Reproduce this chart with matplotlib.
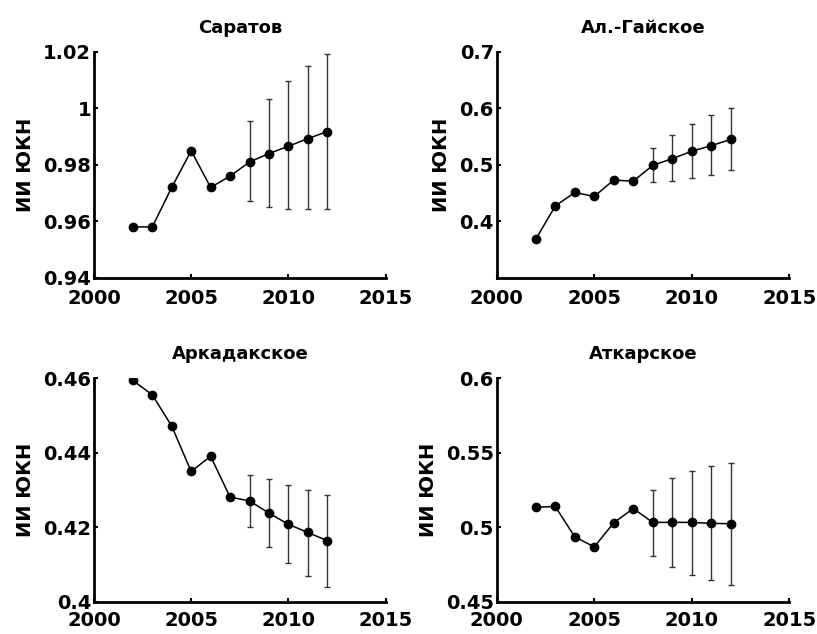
import matplotlib
matplotlib.use('Agg')
import matplotlib.pyplot as plt
from matplotlib.ticker import FuncFormatter
import numpy as np

plt.rcParams['font.family'] = ['DejaVu Sans']
plt.rcParams['font.weight'] = 'bold'

years = np.arange(2002, 2013)
err_years = np.arange(2008, 2013)

titles = ['Саратов', 'Ал.-Гайское', 'Аркадакское', 'Аткарское']

# mean values per region
saratov = [0.958, 0.958, 0.972, 0.985, 0.972, 0.976, 0.981, 0.984, 0.9866, 0.9893, 0.9918]
algai = [0.368, 0.427, 0.451, 0.444, 0.473, 0.471, 0.499, 0.511, 0.524, 0.534, 0.545]
arkadak = [0.4595, 0.4556, 0.4472, 0.435, 0.4391, 0.4281, 0.4271, 0.4238, 0.4208, 0.4186, 0.4164]
atkarsk = [0.5134, 0.514, 0.4936, 0.4868, 0.503, 0.5126, 0.5033, 0.5033, 0.5033, 0.5026, 0.5024]

# forecast interval bounds (2008-2012)
saratov_lo = [0.9672, 0.9652, 0.9642, 0.9642, 0.9642]
saratov_hi = [0.9956, 1.0034, 1.0096, 1.0149, 1.0192]
algai_lo = [0.469, 0.472, 0.476, 0.482, 0.490]
algai_hi = [0.530, 0.553, 0.572, 0.589, 0.601]
arkadak_lo = [0.4201, 0.4148, 0.4103, 0.4070, 0.4040]
arkadak_hi = [0.4340, 0.4330, 0.4314, 0.4301, 0.4286]
atkarsk_lo = [0.481, 0.4733, 0.4678, 0.4643, 0.4612]
atkarsk_hi = [0.5253, 0.5333, 0.5381, 0.5412, 0.5434]

series = [saratov, algai, arkadak, atkarsk]
lows = [saratov_lo, algai_lo, arkadak_lo, atkarsk_lo]
highs = [saratov_hi, algai_hi, arkadak_hi, atkarsk_hi]
ylims = [(0.94, 1.02), (0.3, 0.7), (0.4, 0.46), (0.45, 0.6)]
yticks = [[0.94, 0.96, 0.98, 1.0, 1.02], [0.4, 0.5, 0.6, 0.7],
          [0.4, 0.42, 0.44, 0.46], [0.45, 0.5, 0.55, 0.6]]
xticks = [2000, 2005, 2010, 2015]

fig = plt.figure(figsize=(8.17, 6.34), dpi=100)
positions = [[0.115, 0.562, 0.357, 0.356], [0.608, 0.562, 0.358, 0.356],
             [0.115, 0.051, 0.357, 0.352], [0.608, 0.051, 0.358, 0.352]]

for i in range(4):
    ax = fig.add_axes(positions[i])
    vals = np.array(series[i])
    mid = vals[-5:]
    yerr = [mid - np.array(lows[i]), np.array(highs[i]) - mid]
    ax.errorbar(err_years, mid, yerr=yerr, fmt='none', ecolor='#333333',
                elinewidth=1, capsize=2, capthick=1)
    ax.plot(years, vals, '-o', color='k', lw=1.1, ms=6)
    ax.set_xlim(2000, 2015)
    ax.set_ylim(*ylims[i])
    ax.set_xticks(xticks)
    ax.set_yticks(yticks[i])
    ax.yaxis.set_major_formatter(FuncFormatter(lambda v, p: '%g' % v))
    for s in ['top', 'right']:
        ax.spines[s].set_visible(False)
    for s in ['left', 'bottom']:
        ax.spines[s].set_linewidth(2)
    ax.tick_params(direction='in', length=3, width=1.5, labelsize=14)
    ax.tick_params(axis='x', pad=8 if i < 2 else 7)
    ax.tick_params(axis='y', pad=2)
    for lab in ax.get_xticklabels() + ax.get_yticklabels():
        lab.set_fontweight('bold')
    ax.set_title(titles[i], fontsize=13, fontweight='bold', pad=14)
    ax.set_ylabel('ИИ ЮКН', fontsize=14, fontweight='bold', labelpad=6)

fig.savefig('out.png', dpi=100)
